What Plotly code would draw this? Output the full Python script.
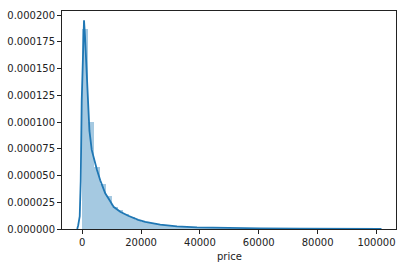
import numpy as np
import plotly.graph_objects as go

# Histogram (density) of price: 50 equal bins
price_min = 0
price_max = 100000
n_bins = 50
hist_density = [
    1.87e-4, 9.99e-5, 5.80e-5, 4.18e-5, 3.06e-5, 2.06e-5, 1.80e-5, 1.44e-5, 1.14e-5, 8.6e-6,
    6.7e-6, 5.8e-6, 4.9e-6, 4.1e-6, 3.5e-6, 3.0e-6, 2.5e-6, 2.2e-6, 1.9e-6, 1.6e-6,
    1.4e-6, 1.2e-6, 1.0e-6, 0.9e-6, 0.8e-6, 0.7e-6, 0.6e-6, 0.5e-6, 0.5e-6, 0.4e-6,
    0.4e-6, 0.3e-6, 0.3e-6, 0.3e-6, 0.2e-6, 0.2e-6, 0.2e-6, 0.15e-6, 0.15e-6, 0.1e-6,
    0.1e-6, 0.1e-6, 0.1e-6, 0.08e-6, 0.08e-6, 0.05e-6, 0.05e-6, 0.05e-6, 0.03e-6, 0.03e-6,
]

# KDE curve
kde_x = [-1700, -1360, -850, -510, -170, 240, 610, 950, 1360, 2040, 2450, 3230, 4080, 5000,
         6120, 7820, 9520, 10640, 12920, 15640, 19040, 21420, 26520, 32200, 39000, 46920,
         60520, 74120, 91120, 101700]
kde_y = [0, 3.5e-6, 1.19e-5, 4.5e-5, 1.2e-4, 1.77e-4, 1.953e-4, 1.8e-4, 1.57e-4, 1.11e-4,
         9.2e-5, 7.4e-5, 6.4e-5, 5.55e-5, 4.56e-5, 3.34e-5, 2.59e-5, 2.08e-5, 1.61e-5,
         1.24e-5, 8.6e-6, 6.6e-6, 4.1e-6, 2.5e-6, 1.6e-6, 1.1e-6, 6.5e-7, 4e-7, 2e-7, 0]

y_ticks = [0, 0.000025, 0.00005, 0.000075, 0.0001, 0.000125, 0.00015, 0.000175, 0.0002]
y_tick_labels = ["0.000000", "0.000025", "0.000050", "0.000075", "0.000100",
                 "0.000125", "0.000150", "0.000175", "0.000200"]
x_ticks = [0, 20000, 40000, 60000, 80000, 100000]
x_tick_labels = ["0", "20000", "40000", "60000", "80000", "100000"]
x_label = "price"

edges = np.linspace(price_min, price_max, n_bins + 1)
centers = (edges[:-1] + edges[1:]) / 2
bw = edges[1] - edges[0]

fig = go.Figure()
fig.add_trace(go.Bar(x=centers, y=hist_density, width=bw,
                     marker=dict(color="rgba(31,119,180,0.4)", line=dict(width=0)),
                     showlegend=False, hoverinfo="skip"))
fig.add_trace(go.Scatter(x=kde_x, y=kde_y, mode="lines",
                         line=dict(color="#1f77b4", width=1.8), showlegend=False))

axis_common = dict(showline=True, linecolor="#222", linewidth=1, mirror=True,
                   ticks="outside", ticklen=4, tickwidth=1, tickcolor="#222",
                   showgrid=False, zeroline=False, automargin=False,
                   tickfont=dict(family="DejaVu Sans", size=10, color="#222"))

fig.update_layout(
    width=407, height=266,
    margin=dict(l=62, r=11, t=11, b=37),
    paper_bgcolor="white", plot_bgcolor="white",
    bargap=0,
    xaxis=dict(range=[-6870, 106630], tickvals=x_ticks, ticktext=x_tick_labels,
               **axis_common),
    yaxis=dict(range=[0, 0.000204], tickvals=y_ticks, ticktext=y_tick_labels,
               **axis_common),
)
fig.add_annotation(text=x_label, xref="paper", yref="paper", x=0.5, y=0,
                   xanchor="center", yanchor="top", yshift=-19.5, showarrow=False,
                   font=dict(family="DejaVu Sans", size=10, color="#222"))

fig.write_html("out.html")
